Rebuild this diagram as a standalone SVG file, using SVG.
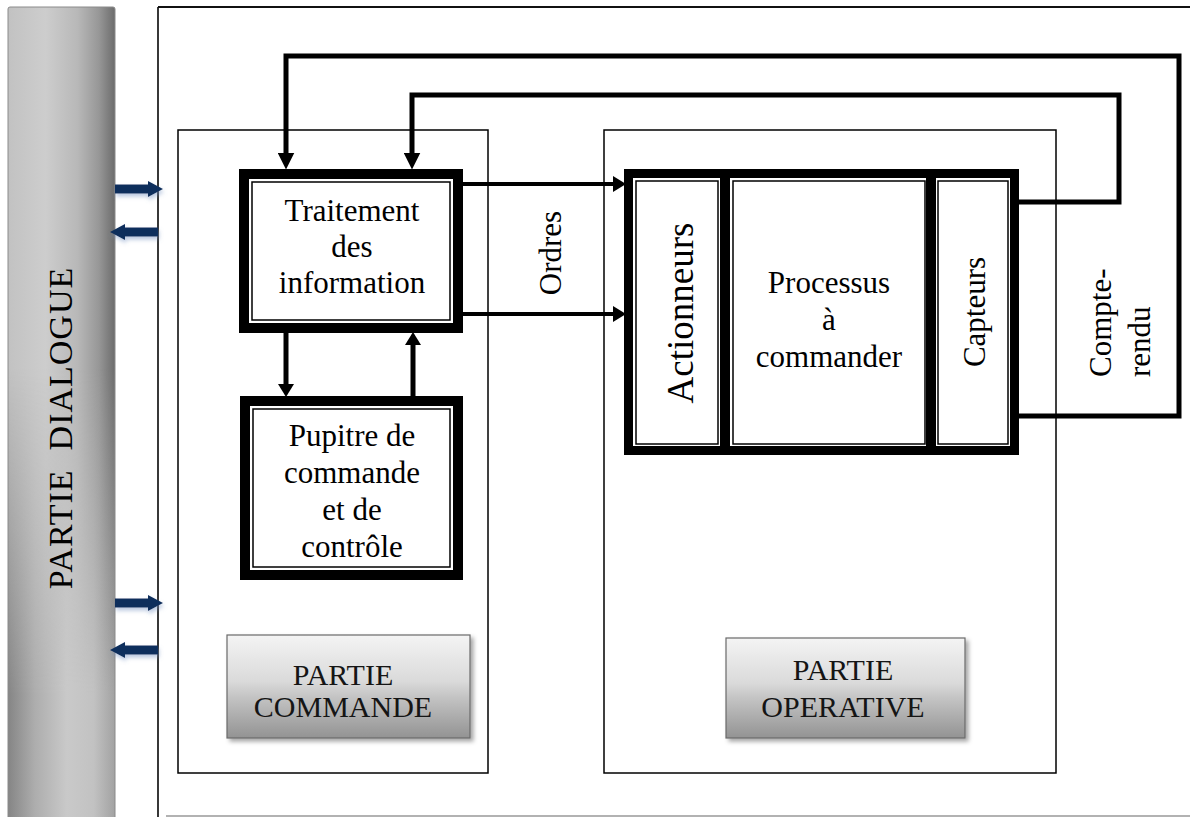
<svg xmlns="http://www.w3.org/2000/svg" width="1190" height="817" viewBox="0 0 1190 817">
  <style>
    .frame { fill: none; stroke: #000; stroke-width: 1.5; }
    .thick { fill: #fff; stroke: #000; stroke-width: 10; }
    .thin { fill: none; stroke: #000; stroke-width: 1.5; }
    .flow { fill: none; stroke: #000; stroke-width: 5; stroke-linejoin: miter; }
    .flowS { fill: none; stroke: #000; stroke-width: 4; }
    .lbl { font-family: "Liberation Serif", "Times New Roman", serif; font-size: 31px; fill: #000; text-anchor: middle; }
    .big { font-size: 37px; }
    .side { font-size: 34px; white-space: pre; letter-spacing: 1px; }
    .btn { font-family: "Liberation Serif", "Times New Roman", serif; font-size: 30px; fill: #151515; text-anchor: middle; }
    .blue { fill: #0e2f5c; }
  </style>
  <defs>
    <linearGradient id="barTop" x1="0" y1="0" x2="1" y2="0">
      <stop offset="0" stop-color="#c2c2c2"/>
      <stop offset="0.35" stop-color="#cdcdcd"/>
      <stop offset="0.65" stop-color="#b8b8b8"/>
      <stop offset="0.85" stop-color="#979797"/>
      <stop offset="1" stop-color="#6c6c6c"/>
    </linearGradient>
    <linearGradient id="barBottom" x1="0" y1="0" x2="1" y2="0">
      <stop offset="0" stop-color="#858585"/>
      <stop offset="0.25" stop-color="#adadad"/>
      <stop offset="0.55" stop-color="#c9c9c9"/>
      <stop offset="0.8" stop-color="#c2c2c2"/>
      <stop offset="1" stop-color="#a2a2a2"/>
    </linearGradient>
    <linearGradient id="fadeDown" x1="0" y1="0" x2="0" y2="1">
      <stop offset="0.45" stop-color="#000"/>
      <stop offset="0.85" stop-color="#fff"/>
    </linearGradient>
    <mask id="lowerHalf">
      <rect x="0" y="0" width="130" height="817" fill="url(#fadeDown)"/>
    </mask>
    <linearGradient id="btnFill" x1="0" y1="0" x2="0" y2="1">
      <stop offset="0" stop-color="#f4f4f4"/>
      <stop offset="0.45" stop-color="#dadada"/>
      <stop offset="0.6" stop-color="#c4c4c4"/>
      <stop offset="1" stop-color="#939393"/>
    </linearGradient>
    <filter id="drop" x="-10%" y="-10%" width="130%" height="140%">
      <feDropShadow dx="3" dy="3" stdDeviation="2" flood-color="#000" flood-opacity="0.35"/>
    </filter>
    <filter id="glow" x="-20%" y="-50%" width="140%" height="200%">
      <feDropShadow dx="1" dy="3" stdDeviation="2" flood-color="#6f8fc0" flood-opacity="0.5"/>
    </filter>
    <marker id="head" markerUnits="userSpaceOnUse" markerWidth="17" markerHeight="17" viewBox="0 0 16 16" refX="8" refY="8" orient="auto">
      <path d="M0,0 L16,8 L0,16 Z" fill="#000"/>
    </marker>
    <marker id="headS" markerUnits="userSpaceOnUse" markerWidth="13" markerHeight="16" viewBox="0 0 13 16" refX="6" refY="8" orient="auto">
      <path d="M0,0 L13,8 L0,16 Z" fill="#000"/>
    </marker>
    <path id="blueArrow" d="M0,-4.5 H33 V-8 L48,0 L33,8 V4.5 H0 Z"/>
  </defs>

  <rect width="1190" height="817" fill="#fff"/>

  <!-- dialogue column -->
  <g id="partie-dialogue">
    <rect x="8" y="7" width="107" height="815" rx="2" fill="url(#barTop)"/>
    <rect x="8" y="7" width="107" height="815" rx="2" fill="url(#barBottom)" mask="url(#lowerHalf)"/>
    <rect x="8" y="7" width="107" height="815" rx="2" fill="none" stroke="#8a8a8a" stroke-width="1"/>
    <text class="lbl side" transform="translate(72,428) rotate(-90)" x="0" y="0">PARTIE  DIALOGUE</text>
  </g>

  <!-- outer frame -->
  <g id="cadre">
    <line x1="158" y1="7" x2="158" y2="817" stroke="#222" stroke-width="1.8"/>
    <line x1="158" y1="7" x2="1190" y2="7" stroke="#111" stroke-width="2"/>
    <line x1="166" y1="816" x2="1190" y2="816" stroke="#999" stroke-width="1.5"/>
  </g>

  <!-- part frames -->
  <g id="partie-commande">
    <rect class="frame" x="178" y="130" width="310" height="643"/>
    <g filter="url(#drop)">
      <rect x="227" y="635" width="243" height="103" fill="url(#btnFill)" stroke="#6a6a6a" stroke-width="1.2"/>
    </g>
    <text class="btn" x="343" y="685">PARTIE</text>
    <text class="btn" x="343" y="717">COMMANDE</text>
  </g>

  <g id="partie-operative">
    <rect class="frame" x="604" y="130" width="452" height="643"/>
    <g filter="url(#drop)">
      <rect x="726" y="638" width="239" height="100" fill="url(#btnFill)" stroke="#6a6a6a" stroke-width="1.2"/>
    </g>
    <text class="btn" x="843" y="680">PARTIE</text>
    <text class="btn" x="843" y="717">OPERATIVE</text>
  </g>

  <!-- control side blocks -->
  <g id="traitement">
    <rect class="thick" x="244" y="174" width="214" height="154"/>
    <rect class="thin" x="252" y="182" width="198" height="138"/>
    <text class="lbl" x="352" y="221">Traitement</text>
    <text class="lbl" x="352" y="257">des</text>
    <text class="lbl" x="352" y="293">information</text>
  </g>

  <g id="pupitre">
    <rect class="thick" x="245" y="401" width="213" height="174"/>
    <rect class="thin" x="253" y="409" width="197" height="158"/>
    <text class="lbl" x="352" y="446">Pupitre de</text>
    <text class="lbl" x="352" y="483">commande</text>
    <text class="lbl" x="352" y="520">et de</text>
    <text class="lbl" x="352" y="557">contrôle</text>
  </g>

  <!-- operative side blocks -->
  <g id="actionneurs">
    <rect class="thick" style="stroke-width:9" x="628.5" y="173.5" width="96" height="277"/>
    <rect class="thin" x="636" y="181" width="82" height="263"/>
    <text class="lbl big" transform="translate(693,313) rotate(-90)">Actionneurs</text>
  </g>

  <g id="processus">
    <rect class="thick" style="stroke-width:9" x="725.5" y="173.5" width="205" height="277"/>
    <rect class="thin" x="733" y="181" width="192" height="263"/>
    <text class="lbl" x="829" y="293">Processus</text>
    <text class="lbl" x="829" y="330">à</text>
    <text class="lbl" x="829" y="367">commander</text>
  </g>

  <g id="capteurs">
    <rect class="thick" style="stroke-width:9" x="931.5" y="173.5" width="83" height="277"/>
    <rect class="thin" x="938" y="181" width="70" height="263"/>
    <text class="lbl" transform="translate(985,312) rotate(-90)">Capteurs</text>
  </g>

  <!-- connectors -->
  <g id="connectors">
    <path class="flow" d="M1019,416 H1179 V56 H286 V161" marker-end="url(#head)"/>
    <path class="flow" d="M1019,202 H1119 V95 H412 V161" marker-end="url(#head)"/>
    <path class="flowS" d="M463,184 H619" marker-end="url(#headS)"/>
    <path class="flowS" d="M463,314 H619" marker-end="url(#headS)"/>
    <path class="flow" d="M286,333 V390" marker-end="url(#headS)"/>
    <path class="flow" d="M413,396 V339" marker-end="url(#headS)"/>
    <g filter="url(#glow)">
      <use href="#blueArrow" class="blue" transform="translate(115,189)"/>
      <use href="#blueArrow" class="blue" transform="translate(158,232) scale(-1,1)"/>
      <use href="#blueArrow" class="blue" transform="translate(115,603)"/>
      <use href="#blueArrow" class="blue" transform="translate(158,650) scale(-1,1)"/>
    </g>
  </g>

  <!-- flow labels -->
  <g id="labels">
    <text class="lbl" transform="translate(561,253) rotate(-90)">Ordres</text>
    <text class="lbl" style="text-anchor:start" transform="translate(1111,377) rotate(-90)">Compte-</text>
    <text class="lbl" style="text-anchor:start" transform="translate(1150,377) rotate(-90)">rendu</text>
  </g>
</svg>
